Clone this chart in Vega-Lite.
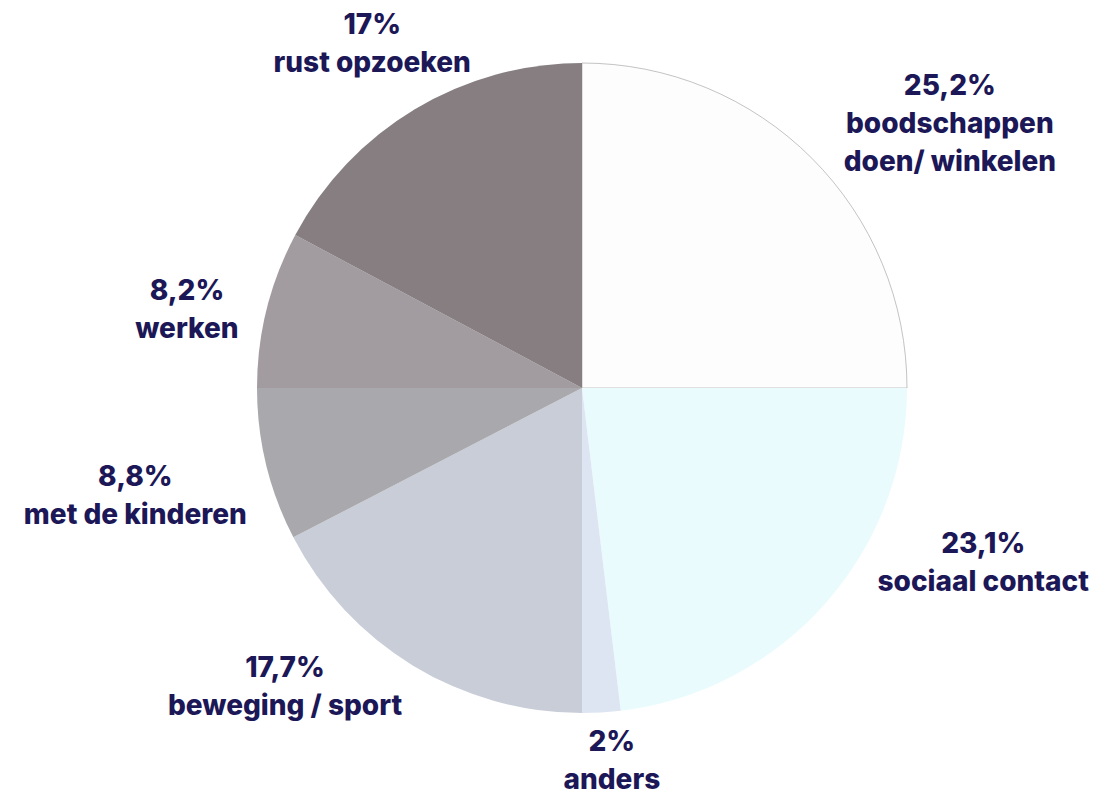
{
  "$schema": "https://vega.github.io/schema/vega-lite/v6.json",
  "width": 1000,
  "height": 776,
  "autosize": "none",
  "padding": {"left": 82, "top": 0, "right": 14, "bottom": 19},
  "background": "#ffffff",
  "view": {"stroke": null},
  "data": {
    "values": [
      {"idx": 1, "name": "boodschappen", "share": 25.0, "label": "25,2%\nboodschappen\ndoen/ winkelen"},
      {"idx": 2, "name": "sociaal", "share": 23.1, "label": "23,1%\nsociaal contact"},
      {"idx": 3, "name": "anders", "share": 1.9, "label": "2%\nanders"},
      {"idx": 4, "name": "beweging", "share": 17.4, "label": "17,7%\nbeweging / sport"},
      {"idx": 5, "name": "kinderen", "share": 7.6, "label": "8,8%\nmet de kinderen"},
      {"idx": 6, "name": "werken", "share": 7.8, "label": "8,2%\nwerken"},
      {"idx": 7, "name": "rust", "share": 17.2, "label": "17%\nrust opzoeken"}
    ]
  },
  "encoding": {
    "theta": {"field": "share", "type": "quantitative", "stack": true},
    "order": {"field": "idx", "type": "quantitative"}
  },
  "layer": [
    {
      "mark": {"type": "arc", "radius": 325, "strokeWidth": 0.8},
      "encoding": {
        "color": {
          "field": "name",
          "type": "nominal",
          "scale": {
            "domain": ["boodschappen", "sociaal", "anders", "beweging", "kinderen", "werken", "rust"],
            "range": ["#fdfdfd", "#e9fbfc", "#dde5f2", "#c9cdd7", "#a9a8ad", "#a29ca0", "#867e81"]
          },
          "legend": null
        },
        "stroke": {"condition": {"test": "datum.name === 'boodschappen'", "value": "#b4b4b4"}, "value": null}
      }
    },
    {
      "mark": {"type": "text", "radius": 400, "dx": 85, "dy": -18, "lineBreak": "\n", "lineHeight": 38, "font": "Inter", "fontWeight": 800, "fontSize": 28, "color": "#1c1757", "align": "center", "baseline": "middle"},
      "encoding": {"text": {"condition": {"test": "datum.name === 'boodschappen'", "field": "label"}, "value": ""}}
    },
    {
      "mark": {"type": "text", "radius": 400, "dx": 102, "dy": -108, "lineBreak": "\n", "lineHeight": 38, "font": "Inter", "fontWeight": 800, "fontSize": 28, "color": "#1c1757", "align": "center", "baseline": "middle"},
      "encoding": {"text": {"condition": {"test": "datum.name === 'sociaal'", "field": "label"}, "value": ""}}
    },
    {
      "mark": {"type": "text", "radius": 400, "dx": 6, "dy": -44, "lineBreak": "\n", "lineHeight": 38, "font": "Inter", "fontWeight": 800, "fontSize": 28, "color": "#1c1757", "align": "center", "baseline": "middle"},
      "encoding": {"text": {"condition": {"test": "datum.name === 'anders'", "field": "label"}, "value": ""}}
    },
    {
      "mark": {"type": "text", "radius": 400, "dx": -89, "dy": -61, "lineBreak": "\n", "lineHeight": 38, "font": "Inter", "fontWeight": 800, "fontSize": 28, "color": "#1c1757", "align": "center", "baseline": "middle"},
      "encoding": {"text": {"condition": {"test": "datum.name === 'beweging'", "field": "label"}, "value": ""}}
    },
    {
      "mark": {"type": "text", "radius": 400, "dx": -58, "dy": -5, "lineBreak": "\n", "lineHeight": 38, "font": "Inter", "fontWeight": 800, "fontSize": 28, "color": "#1c1757", "align": "center", "baseline": "middle"},
      "encoding": {"text": {"condition": {"test": "datum.name === 'kinderen'", "field": "label"}, "value": ""}}
    },
    {
      "mark": {"type": "text", "radius": 400, "dx": -7, "dy": 1, "lineBreak": "\n", "lineHeight": 38, "font": "Inter", "fontWeight": 800, "fontSize": 28, "color": "#1c1757", "align": "center", "baseline": "middle"},
      "encoding": {"text": {"condition": {"test": "datum.name === 'werken'", "field": "label"}, "value": ""}}
    },
    {
      "mark": {"type": "text", "radius": 400, "dx": -4, "dy": -19, "lineBreak": "\n", "lineHeight": 38, "font": "Inter", "fontWeight": 800, "fontSize": 28, "color": "#1c1757", "align": "center", "baseline": "middle"},
      "encoding": {"text": {"condition": {"test": "datum.name === 'rust'", "field": "label"}, "value": ""}}
    }
  ]
}
